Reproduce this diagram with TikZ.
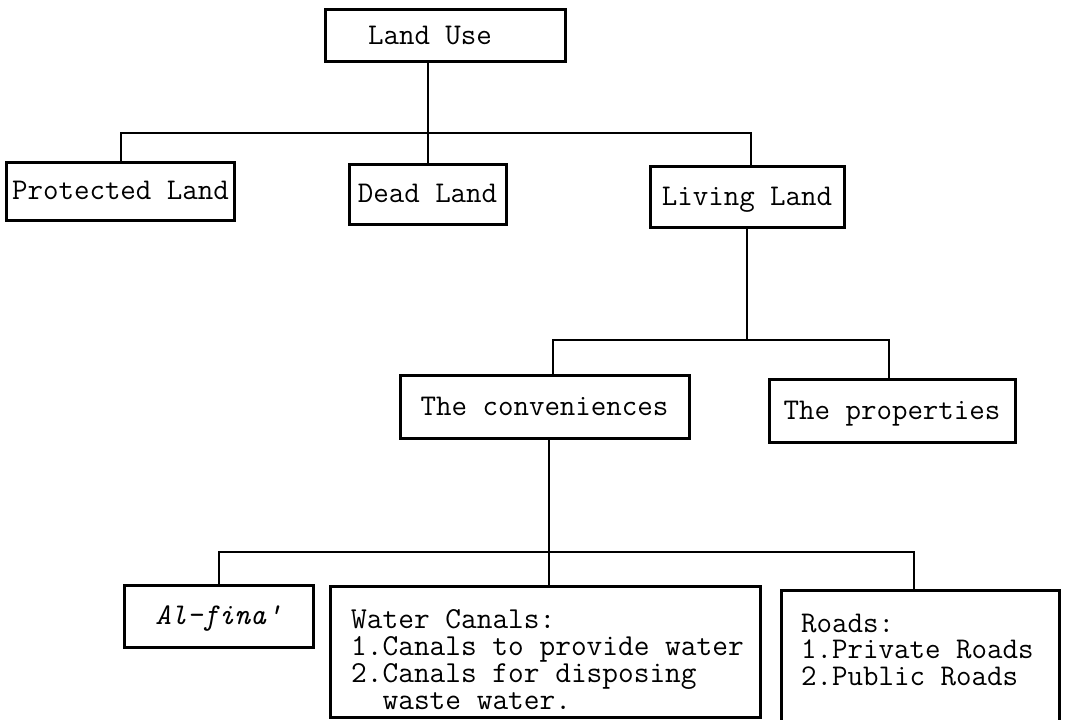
\documentclass[tikz,border=0pt]{standalone}
\usepackage{fontspec}
\usetikzlibrary{calc}
\newcommand\boxfont{\ttfamily\fontsize{30.2}{26.4}\selectfont}
\newcommand\listfont{\ttfamily\fontsize{30.6}{27.2}\selectfont}
\tikzset{
  box/.style={draw, line width=3bp, rectangle, inner sep=0pt,
    font=\boxfont, text height=17bp, text depth=0bp},
  txt/.style={inner sep=0pt, align=left, anchor=north west, font=\boxfont},
  conn/.style={line width=2bp}
}
\begin{document}
\begin{tikzpicture}[x=1bp,y=-1bp]
\useasboundingbox (0,0) rectangle (1079,720);
\clip (0,0) rectangle (1079,720);
% top level
\node[box, minimum width=240bp, minimum height=52bp] (lu) at (445,36) {Land Use\hspace*{30bp}};
% second level
\node[box, minimum width=227bp, minimum height=57bp] (pl) at (120.5,191.5) {Protected Land};
\node[box, minimum width=157bp, minimum height=59bp] (dl) at (427.5,194.5) {Dead Land};
\node[box, minimum width=194bp, minimum height=60bp] (ll) at (747,197) {Living Land};
% third level
\node[box, minimum width=289bp, minimum height=63bp] (cv) at (544.5,406.5) {The conveniences};
\node[box, minimum width=246bp, minimum height=63bp] (pr) at (892,410.5) {The properties};
% fourth level
\node[box, minimum width=189bp, minimum height=62bp] (af) at (218.5,616) {\itshape Al\textendash fina'};
\node[box, minimum width=430bp, minimum height=131bp] (wc) at (545,651.5) {};
\node[box, minimum width=278bp, minimum height=150bp] (rd) at (920,665) {};
\node[txt, font=\listfont] (wct) at (351,609) {Water Canals:\\1.Canals to provide water\\2.Canals for disposing\\\hphantom{2.}waste water.};
\node[txt] (rdt) at (801,614) {Roads:\\1.Private Roads\\2.Public Roads};
% connectors
\coordinate (b1) at (0,133);
\coordinate (b2) at (0,340);
\coordinate (b3) at (0,552);
\draw[conn] (lu.south -| dl.north) -- (dl.north);
\draw[conn] (pl.north) -- (pl.north |- b1) -- ([xshift=4bp]ll.north |- b1) -- ([xshift=4bp]ll.north);
\draw[conn] (ll.south) -- (ll.south |- b2);
\draw[conn] ([xshift=8bp]cv.north) -- ([xshift=8bp]cv.north |- b2) -- ([xshift=-3bp]pr.north |- b2) -- ([xshift=-3bp]pr.north);
\draw[conn] ([xshift=4bp]cv.south) -- ([xshift=4bp]cv.south |- wc.north);
\draw[conn] (af.north) -- (af.north |- b3) -- ([xshift=-6bp]rd.north |- b3) -- ([xshift=-6bp]rd.north);
\end{tikzpicture}
\end{document}
